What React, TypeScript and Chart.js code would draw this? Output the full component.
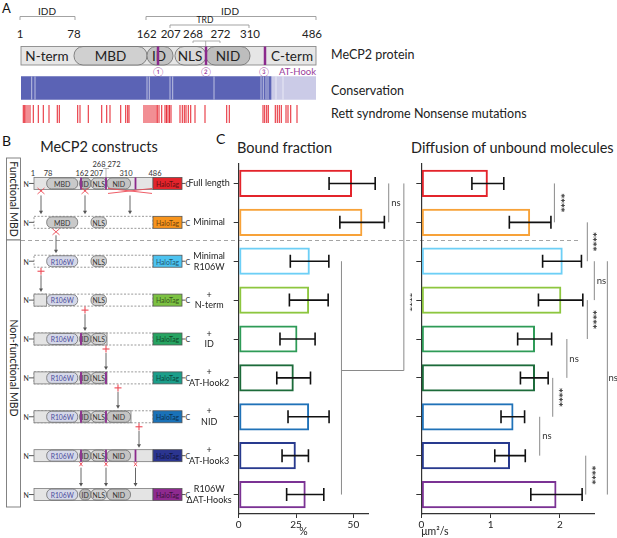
import React, { useEffect, useRef } from 'react';
import { Chart, registerables } from 'chart.js';
Chart.register(...registerables);

const FONT = 'Lato, "Open Sans", "DejaVu Sans", sans-serif';
Chart.defaults.font.family = FONT;

// ---------------- data ----------------
const categories: string[][] = [
  ['Full length'], ['Minimal'], ['Minimal', 'R106W'], ['+', 'N-term'], ['+', 'ID'],
  ['+', 'AT-Hook2'], ['+', 'NID'], ['+', 'AT-Hook3'], ['R106W', '\u0394AT-Hooks'],
];
const boundMean = [49.4, 53.9, 31.0, 30.7, 25.6, 24.0, 30.7, 24.9, 29.2];
const boundLow = [39.4, 44.1, 22.5, 22.1, 18.0, 16.6, 21.5, 18.9, 20.9];
const boundHigh = [59.5, 63.5, 39.3, 39.0, 33.3, 31.3, 39.4, 30.4, 37.1];
const diffMean = [0.96, 1.57, 2.04, 2.02, 1.64, 1.64, 1.33, 1.28, 1.95];
const diffLow = [0.73, 1.27, 1.75, 1.69, 1.39, 1.43, 1.15, 1.06, 1.58];
const diffHigh = [1.19, 1.87, 2.31, 2.33, 1.88, 1.83, 1.49, 1.50, 2.32];
const boundTicks = [0, 25, 50];
const diffTicks = [0, 1, 2];
const barColors = ['#e3242b', '#f7a239', '#6dcff6', '#8dc63f', '#2e9b57', '#1c6b3a', '#2072b8', '#283a8e', '#7b3294'];
const haloColors = ['#e3242b', '#f7941d', '#4dc3f0', '#7cc242', '#27a462', '#1b9e8a', '#1a72b8', '#2b3590', '#8e2a8f'];

type Bracket = { from: number; to: number; x: number; label?: string; labelAt?: number; joinX?: number; dx?: number };
const boundBrackets: Bracket[] = [
  { from: 0, to: 1, x: 65.4, label: 'ns' },
  { from: 2, to: 8, x: 44.8 },
  { from: 0, to: 4.81, x: 72, joinX: 44.8, label: '****', labelAt: 3.05 },
];
const diffBrackets: Bracket[] = [
  { from: 0, to: 1, x: 1.92, label: '****' },
  { from: 1, to: 2, x: 2.395, label: '****' },
  { from: 2, to: 3, x: 2.496, label: 'ns' },
  { from: 3, to: 4, x: 2.395, label: '****' },
  { from: 4, to: 5, x: 2.1, label: 'ns' },
  { from: 5, to: 6, x: 1.896, label: '****' },
  { from: 6, to: 7, x: 1.708, label: 'ns' },
  { from: 7, to: 8, x: 2.372, label: '****' },
  { from: 2, to: 8, x: 2.684, label: 'ns', dx: 1.2 },
];

// Panel A tracks (schematic diagram coordinates)
const trackLabels = ['Conservation', 'Nonsense mutations'];
const conservedRange = [21, 271];
const variableRange = [271, 316];
const conservationGaps = [31.7, 35, 147, 149.3, 170, 172.7, 214, 261, 263.3, 266, 268, 276, 283];
const mutationPositions = [
  23.3, 24.7, 26, 28, 30, 33.3, 38.3, 43.3, 49, 57.3, 59.3, 77.7, 80, 88.3, 101.7, 106.7, 110,
  120.7, 125.7, 127.7, 129, 144, 146, 148, 150, 152, 154, 156, 157.3, 159, 161.7, 165, 166.5, 168,
  169.5, 171, 180, 182.3, 184.3, 186, 188.3, 190.7, 195, 205, 226.7, 229.3, 263, 264.7, 266.7,
  268.3, 275.3, 277.3, 279.3, 281.3, 286, 288, 290.7, 297,
];

// ---------------- chart helpers ----------------
function overlayPlugin(low: number[], high: number[], brackets: Bracket[]) {
  return {
    id: 'overlay',
    afterDatasetsDraw(chart: any) {
      const { ctx } = chart;
      const x = chart.scales.x;
      const y = chart.scales.y;
      ctx.save();
      ctx.strokeStyle = '#111';
      ctx.lineWidth = 1.6;
      low.forEach((lo, i) => {
        const py = y.getPixelForValue(i);
        const a = x.getPixelForValue(lo);
        const b = x.getPixelForValue(high[i]);
        ctx.beginPath();
        ctx.moveTo(a, py); ctx.lineTo(b, py);
        ctx.moveTo(a, py - 6.5); ctx.lineTo(a, py + 6.5);
        ctx.moveTo(b, py - 6.5); ctx.lineTo(b, py + 6.5);
        ctx.stroke();
      });
      ctx.strokeStyle = '#8a8a8a';
      ctx.lineWidth = 1;
      ctx.fillStyle = '#333';
      brackets.forEach((br) => {
        const px = x.getPixelForValue(br.x);
        const y1 = y.getPixelForValue(br.from);
        const y2 = y.getPixelForValue(br.to);
        ctx.beginPath();
        ctx.moveTo(px, y1); ctx.lineTo(px, y2);
        if (br.joinX !== undefined) {
          ctx.moveTo(px, y2); ctx.lineTo(x.getPixelForValue(br.joinX), y2);
        }
        ctx.stroke();
        if (br.label) {
          const ly = y.getPixelForValue(br.labelAt ?? (br.from + br.to) / 2);
          if (br.label === 'ns') {
            ctx.font = `9.5px ${FONT}`;
            ctx.textAlign = 'left';
            ctx.textBaseline = 'middle';
            ctx.fillText('ns', px + (br.dx ?? 2.5), ly);
          } else {
            ctx.save();
            ctx.translate(px + 5.5, ly);
            ctx.rotate(Math.PI / 2);
            ctx.font = `bold 9px "DejaVu Sans", sans-serif`;
            ctx.textAlign = 'center';
            ctx.textBaseline = 'middle';
            ctx.fillText(br.label, 0, 0);
            ctx.restore();
          }
        }
      });
      ctx.restore();
    },
  };
}

function barConfig(o: {
  mean: number[]; low: number[]; high: number[]; ticks: number[]; max: number; title: string;
  titleAlign: 'start' | 'center'; yWidth: number; padRight: number; showLabels: boolean; brackets: Bracket[];
}): any {
  const yTicks: any = {
    autoSkip: false, crossAlign: 'center', padding: 2, color: '#222',
    font: { size: 9, family: FONT, lineHeight: 1.2 },
  };
  if (!o.showLabels) yTicks.callback = () => '';
  return {
    type: 'bar',
    data: {
      labels: categories,
      datasets: [{
        data: o.mean, backgroundColor: 'rgba(255,255,255,0)', borderColor: barColors,
        borderWidth: 2, borderSkipped: false, barPercentage: 0.7, categoryPercentage: 1,
      }],
    },
    options: {
      indexAxis: 'y', responsive: false, animation: false, events: [],
      layout: { autoPadding: false, padding: { top: 14, right: o.padRight, left: 0, bottom: 0 } },
      plugins: { legend: { display: false }, tooltip: { enabled: false } },
      scales: {
        x: {
          type: 'linear', min: 0, max: o.max,
          afterBuildTicks: (s: any) => { s.ticks = o.ticks.map((v) => ({ value: v })); },
          afterFit: (s: any) => { s.height = 24; },
          grid: { drawOnChartArea: false, tickLength: 4, color: '#333' },
          border: { color: '#333', width: 1.2 },
          ticks: { font: { size: 10, family: FONT }, color: '#222', padding: 1, maxRotation: 0 },
          title: { display: true, text: o.title, align: o.titleAlign, padding: 0, color: '#222', font: { size: 10.5, family: FONT } },
        },
        y: {
          type: 'category', offset: true,
          afterFit: (s: any) => { s.width = o.yWidth; },
          grid: { offset: false, drawOnChartArea: false, tickLength: 5, color: '#333' },
          border: { color: '#333', width: 1.2 },
          ticks: yTicks,
        },
      },
    },
    plugins: [overlayPlugin(o.low, o.high, o.brackets)],
  };
}

function trackConfig(): any {
  return {
    type: 'bar',
    data: {
      labels: trackLabels,
      datasets: [
        { type: 'bar', order: 2, data: [conservedRange, null], backgroundColor: '#5b63b5', grouped: false, barThickness: 23, borderWidth: 0 },
        { type: 'bar', order: 3, data: [variableRange, null], backgroundColor: '#cbcbe7', grouped: false, barThickness: 23, borderWidth: 0 },
        {
          type: 'scatter', order: 0, data: conservationGaps.map((x) => ({ x, y: trackLabels[0] })),
          pointStyle: 'line', pointRadius: 11.5, pointRotation: 90, clip: false,
          pointBorderColor: 'rgba(255,255,255,0.6)', borderColor: 'rgba(255,255,255,0.6)', pointBorderWidth: 1,
        },
        {
          type: 'scatter', order: 0, data: mutationPositions.map((x) => ({ x, y: trackLabels[1] })),
          pointStyle: 'line', pointRadius: 9, pointRotation: 90, clip: false,
          pointBorderColor: '#e8323c', borderColor: '#e8323c', pointBorderWidth: 1.1,
        },
      ],
    },
    options: {
      indexAxis: 'y', responsive: false, animation: false, events: [],
      layout: { autoPadding: false, padding: 0 },
      plugins: { legend: { display: false }, tooltip: { enabled: false } },
      scales: {
        x: { type: 'linear', min: 21, max: 316, display: false },
        y: { type: 'category', display: false, offset: true },
      },
    },
  };
}

function ChartCanvas({ make, left, top, width, height }: { make: () => any; left: number; top: number; width: number; height: number }) {
  const ref = useRef<HTMLCanvasElement>(null);
  useEffect(() => {
    const chart = new Chart(ref.current as HTMLCanvasElement, make());
    return () => chart.destroy();
  }, []);
  return <canvas ref={ref} width={width} height={height} style={{ position: 'absolute', left, top, width, height }} />;
}

// ---------------- schematic (panels A & B) ----------------
const PURPLE = '#8b2a8c';
const RED = '#ec4a55';
const rowY = (i: number) => 164 + (i + 0.5) * (350 / 9);

const B = { x0: 34, nEnd: 46.7, mbd: [46.7, 77.7], id: [79.5, 91], nls: [91, 106.5], nid: [107, 130.5], end: 153, halo: [153, 182], hooks: [81, 106, 135.5] };
const constructRows = [
  { solidEnd: 153, mbd: 'MBD', id: true, nid: true, hooks: [0, 1, 2] },
  { solidEnd: 34, mbd: 'MBD', id: false, nid: false, hooks: [] as number[] },
  { solidEnd: 34, mbd: 'R106W', id: false, nid: false, hooks: [] as number[] },
  { solidEnd: 46.7, mbd: 'R106W', id: false, nid: false, hooks: [] as number[] },
  { solidEnd: 107, mbd: 'R106W', id: true, nid: false, hooks: [0] },
  { solidEnd: 107, mbd: 'R106W', id: true, nid: false, hooks: [0, 1] },
  { solidEnd: 131, mbd: 'R106W', id: true, nid: true, hooks: [0, 1] },
  { solidEnd: 153, mbd: 'R106W', id: true, nid: true, hooks: [0, 1, 2] },
  { solidEnd: 153, mbd: 'R106W', id: true, nid: true, hooks: [] as number[] },
];

function Arrow({ x, y1, y2 }: { x: number; y1: number; y2: number }) {
  return (
    <g>
      <line x1={x} y1={y1} x2={x} y2={y2 - 3} stroke="#555" strokeWidth={0.9} />
      <polygon points={`${x - 2},${y2 - 3.5} ${x + 2},${y2 - 3.5} ${x},${y2}`} fill="#555" />
    </g>
  );
}
function XMark({ x, y, w = 3.5, h = 3 }: { x: number; y: number; w?: number; h?: number }) {
  return (
    <g stroke={RED} strokeWidth={0.9}>
      <line x1={x - w} y1={y - h} x2={x + w} y2={y + h} />
      <line x1={x - w} y1={y + h} x2={x + w} y2={y - h} />
    </g>
  );
}
function Plus({ x, y }: { x: number; y: number }) {
  return (
    <g stroke={RED} strokeWidth={1.1}>
      <line x1={x - 3.5} y1={y} x2={x + 3.5} y2={y} />
      <line x1={x} y1={y - 3.5} x2={x} y2={y + 3.5} />
    </g>
  );
}

function Domain({ x1, x2, cy, fill, label, color = '#333', fs = 7 }: { x1: number; x2: number; cy: number; fill: string; label: string; color?: string; fs?: number }) {
  return (
    <g>
      <rect x={x1} y={cy - 5.5} width={x2 - x1} height={11} rx={5} fill={fill} stroke="#6d6d6d" strokeWidth={0.8} />
      <text x={(x1 + x2) / 2} y={cy + 0.3} fontSize={fs} fill={color} textAnchor="middle" dominantBaseline="central">{label}</text>
    </g>
  );
}

function ConstructRow({ i }: { i: number }) {
  const cy = rowY(i);
  const r = constructRows[i];
  const top = cy - 6;
  return (
    <g>
      <text x={23.5} y={cy + 0.3} fontSize={7} fill="#333" dominantBaseline="central">N</text>
      <line x1={29} x2={B.x0} y1={cy} y2={cy} stroke="#444" strokeWidth={0.9} />
      {r.solidEnd < B.end && (
        <rect x={B.x0} y={top} width={B.end - B.x0} height={12} fill="none" stroke="#808080" strokeWidth={0.8} strokeDasharray="2 1.6" />
      )}
      {r.solidEnd > B.x0 && (
        <rect x={B.x0} y={top} width={r.solidEnd - B.x0} height={12} fill="#e4e4e4" stroke="#7a7a7a" strokeWidth={0.8} />
      )}
      <Domain x1={B.mbd[0]} x2={B.mbd[1]} cy={cy} fill={r.mbd === 'MBD' ? '#c9c9c9' : '#d5d8e8'} label={r.mbd} color={r.mbd === 'MBD' ? '#333' : '#4b4b9b'} fs={r.mbd === 'MBD' ? 7 : 6.8} />
      {r.id && <Domain x1={B.id[0]} x2={B.id[1]} cy={cy} fill="#b9b9b9" label="ID" />}
      <Domain x1={B.nls[0]} x2={B.nls[1]} cy={cy} fill="#d2d2d2" label="NLS" fs={6.8} />
      {r.nid && <Domain x1={B.nid[0]} x2={B.nid[1]} cy={cy} fill="#c4c4c4" label="NID" />}
      {r.hooks.map((h) => (
        <line key={h} x1={B.hooks[h]} x2={B.hooks[h]} y1={top} y2={top + 12} stroke={PURPLE} strokeWidth={1.8} />
      ))}
      <rect x={B.halo[0]} y={top} width={B.halo[1] - B.halo[0]} height={12} fill={haloColors[i]} stroke="#555" strokeWidth={0.8} />
      <text x={(B.halo[0] + B.halo[1]) / 2} y={cy + 0.3} fontSize={6.8} fill="rgba(0,0,0,0.6)" textAnchor="middle" dominantBaseline="central">HaloTag</text>
      <line x1={182} x2={185.5} y1={cy} y2={cy} stroke="#444" strokeWidth={0.9} />
      <text x={185.5} y={cy + 0.3} fontSize={7} fill="#333" dominantBaseline="central">C</text>
    </g>
  );
}

function Schematic() {
  const gaps = [0, 1, 2, 3, 4, 5, 6, 7].map((i) => ({ y0: rowY(i), y1: rowY(i + 1) }));
  return (
    <svg width={617} height={538} style={{ position: 'absolute', left: 0, top: 0, fontFamily: FONT }}>
      {/* ---------- Panel A ---------- */}
      <text x={2} y={13} fontSize={13} fill="#111">A</text>
      <path d="M20,20 V16.5 H75 V20" fill="none" stroke="#999" strokeWidth={0.9} />
      <text x={47} y={14.5} fontSize={10} fill="#222" textAnchor="middle">IDD</text>
      <path d="M146,20 V16.5 H316 V20" fill="none" stroke="#999" strokeWidth={0.9} />
      <text x={230} y={14.5} fontSize={10} fill="#222" textAnchor="middle">IDD</text>
      <path d="M170,28 V25 H249 V28" fill="none" stroke="#999" strokeWidth={0.9} />
      <text x={205} y={23} fontSize={8.5} fill="#222" textAnchor="middle">TRD</text>
      {[['1', 20], ['78', 74], ['162', 146.7], ['207', 170.7], ['268', 193], ['272', 220.5], ['310', 250], ['486', 312]].map(([t, x]) => (
        <text key={t as string} x={x as number} y={37.5} fontSize={11.5} fill="#222" textAnchor="middle">{t}</text>
      ))}
      <path d="M193,43 V41 H220 V43 M205.7,41 V46" fill="none" stroke="#999" strokeWidth={0.8} />
      <rect x={21} y={46.5} width={295} height={18.5} fill="#e6e6e6" stroke="#8a8a8a" strokeWidth={0.9} />
      <text x={47} y={56} fontSize={13.5} fill="#222" textAnchor="middle" dominantBaseline="central">N-term</text>
      <rect x={74} y={46.5} width={73} height={18.5} rx={9} fill="#d0d0d0" stroke="#777" strokeWidth={0.9} />
      <text x={110.5} y={56} fontSize={13.5} fill="#222" textAnchor="middle" dominantBaseline="central">MBD</text>
      <rect x={147} y={46.5} width={26} height={18.5} rx={9} fill="#c2c2c2" stroke="#777" strokeWidth={0.9} />
      <text x={159} y={56} fontSize={13.5} fill="#222" textAnchor="middle" dominantBaseline="central">ID</text>
      <rect x={175} y={46.5} width={31} height={18.5} rx={9} fill="#dadada" stroke="#777" strokeWidth={0.9} />
      <text x={190} y={56} fontSize={13.5} fill="#222" textAnchor="middle" dominantBaseline="central">NLS</text>
      <rect x={206} y={46.5} width={44} height={18.5} rx={9} fill="#bdbdbd" stroke="#777" strokeWidth={0.9} />
      <text x={228} y={56} fontSize={13.5} fill="#222" textAnchor="middle" dominantBaseline="central">NID</text>
      <text x={292} y={56} fontSize={13.5} fill="#222" textAnchor="middle" dominantBaseline="central">C-term</text>
      {[158, 206, 265].map((x) => (
        <line key={x} x1={x} x2={x} y1={46.5} y2={65} stroke={PURPLE} strokeWidth={2.5} />
      ))}
      {[['\u2460', 158], ['\u2461', 206], ['\u2462', 264]].map(([t, x]) => (
        <text key={t as string} x={x as number} y={71.5} fontSize={9} fill="#a04aa0" textAnchor="middle" dominantBaseline="central">{t}</text>
      ))}
      <text x={316} y={71.5} fontSize={9.5} fill="#9a3d9a" textAnchor="end" dominantBaseline="central">AT-Hook</text>
      <text x={331} y={54.5} fontSize={12.5} fill="#222" dominantBaseline="central">MeCP2 protein</text>
      <text x={331} y={90} fontSize={12.5} fill="#222" dominantBaseline="central">Conservation</text>
      <text x={331} y={113.5} fontSize={12.5} fill="#222" dominantBaseline="central">Rett syndrome Nonsense mutations</text>

      {/* ---------- Headers ---------- */}
      <text x={2} y={146} fontSize={14} fill="#111">B</text>
      <text x={99} y={152} fontSize={14.5} fill="#222" textAnchor="middle">MeCP2 constructs</text>
      <text x={216} y={144} fontSize={14} fill="#111">C</text>
      <text x={237} y={153} fontSize={14.5} fill="#222">Bound fraction</text>
      <text x={411} y={153} fontSize={14.5} fill="#222">Diffusion of unbound molecules</text>

      {/* ---------- Panel B ---------- */}
      <rect x={6.5} y={158} width={14} height={82} fill="#fff" stroke="#777" strokeWidth={0.9} />
      <text x={13.5} y={199} fontSize={10.5} fill="#222" textAnchor="middle" dominantBaseline="central" transform="rotate(90 13.5 199)">Functional MBD</text>
      <rect x={6.5} y={240} width={14} height={267} fill="#fff" stroke="#777" strokeWidth={0.9} />
      <text x={13.5} y={368} fontSize={10.5} fill="#222" textAnchor="middle" dominantBaseline="central" transform="rotate(90 13.5 368)">Non-functional MBD</text>
      <line x1={21} x2={578} y1={240.5} y2={240.5} stroke="#9a9a9a" strokeWidth={0.9} strokeDasharray="4 3" />

      {[['1', 33], ['78', 48], ['162', 82], ['207', 96.5], ['310', 126], ['486', 155]].map(([t, x]) => (
        <text key={t as string} x={x as number} y={176} fontSize={7.5} fill="#333" textAnchor="middle">{t}</text>
      ))}
      {[['268', 99], ['272', 114]].map(([t, x]) => (
        <text key={t as string} x={x as number} y={167} fontSize={7.5} fill="#333" textAnchor="middle">{t}</text>
      ))}
      <path d="M103,168.5 H109 M106,168.5 V177" fill="none" stroke="#999" strokeWidth={0.7} />

      {constructRows.map((_, i) => <ConstructRow key={i} i={i} />)}

      {/* transitions between constructs */}
      <XMark x={41} y={gaps[0].y0 + 7.5} />
      <XMark x={85} y={gaps[0].y0 + 7.5} />
      <XMark x={130} y={gaps[0].y0 + 7.5} w={22} h={2.5} />
      <Arrow x={41} y1={gaps[0].y0 + 12} y2={gaps[0].y1 - 8} />
      <Arrow x={85} y1={gaps[0].y0 + 12} y2={gaps[0].y1 - 8} />
      <Arrow x={130} y1={gaps[0].y0 + 12} y2={gaps[0].y1 - 8} />
      <XMark x={56} y={gaps[1].y0 + 9.5} />
      <Arrow x={56} y1={gaps[1].y0 + 13} y2={gaps[1].y1 - 8} />
      <Plus x={41} y={gaps[2].y0 + 10} />
      <Arrow x={41} y1={gaps[2].y0 + 14} y2={gaps[2].y1 - 8} />
      <Plus x={85} y={gaps[3].y0 + 10} />
      <Arrow x={85} y1={gaps[3].y0 + 14} y2={gaps[3].y1 - 8} />
      <Plus x={106} y={gaps[4].y0 + 10} />
      <Arrow x={106} y1={gaps[4].y0 + 14} y2={gaps[4].y1 - 8} />
      <Plus x={118} y={gaps[5].y0 + 10} />
      <Arrow x={118} y1={gaps[5].y0 + 14} y2={gaps[5].y1 - 8} />
      <Plus x={139} y={gaps[6].y0 + 10} />
      <Arrow x={139} y1={gaps[6].y0 + 14} y2={gaps[6].y1 - 8} />
      {[81, 106, 135.5].map((x) => (
        <g key={x}>
          <XMark x={x} y={gaps[7].y0 + 8.5} w={1.5} h={2} />
          <Arrow x={x} y1={gaps[7].y0 + 12} y2={gaps[7].y1 - 8} />
        </g>
      ))}
    </svg>
  );
}

export default function App() {
  return (
    <div style={{ position: 'absolute', left: 0, top: 0, width: 617, height: 538, background: '#fff', fontFamily: FONT, overflow: 'hidden' }}>
      <Schematic />
      <ChartCanvas left={21} top={75} width={295} height={52} make={trackConfig} />
      <ChartCanvas
        left={150} top={150} width={262} height={388}
        make={() => barConfig({
          mean: boundMean, low: boundLow, high: boundHigh, ticks: boundTicks, max: 56.5, title: '%',
          titleAlign: 'center', yWidth: 88.7, padRight: 43.7, showLabels: true, brackets: boundBrackets,
        })}
      />
      <ChartCanvas
        left={405} top={150} width={212} height={388}
        make={() => barConfig({
          mean: diffMean, low: diffLow, high: diffHigh, ticks: diffTicks, max: 2.5, title: '\u03bcm\u00b2/s',
          titleAlign: 'start', yWidth: 16.3, padRight: 22.4, showLabels: false, brackets: diffBrackets,
        })}
      />
    </div>
  );
}
